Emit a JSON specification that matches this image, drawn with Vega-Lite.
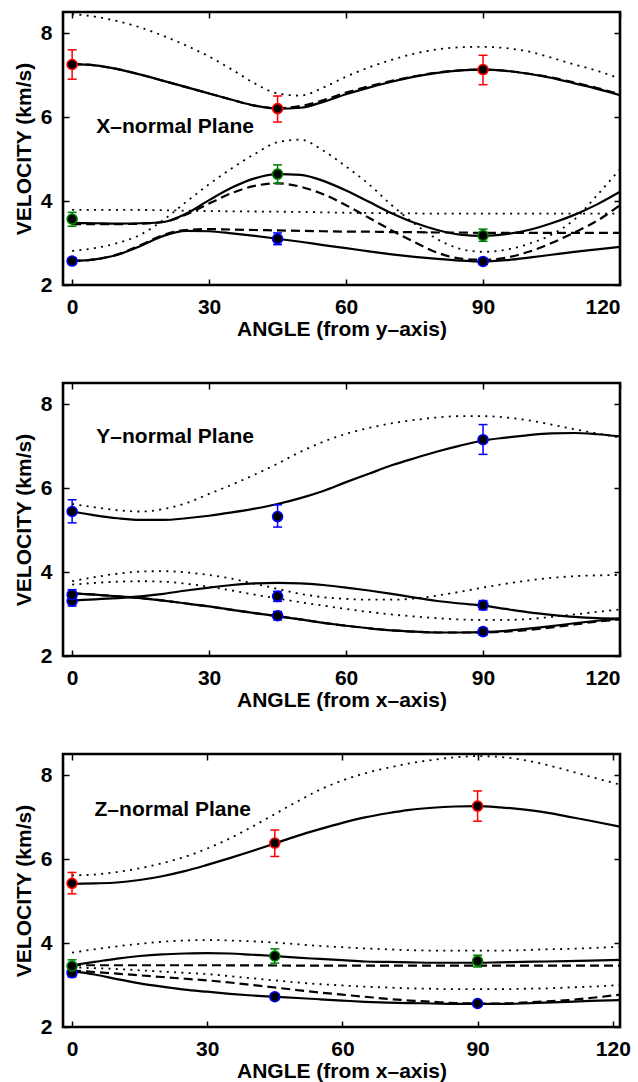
{
"$schema":"https://vega.github.io/schema/vega-lite/v6.json",
"background":"white",
"padding":{"left":12,"top":9,"right":0,"bottom":0},
"spacing":39,
"config":{
 "view":{"stroke":"black","strokeWidth":2.6},
 "font":"Liberation Sans",
 "axis":{"labelFont":"Liberation Sans","labelFontSize":21,"labelFontWeight":"bold","labelColor":"black","titleFont":"Liberation Sans","titleFontSize":21,"titleFontWeight":"bold","titleColor":"black","domain":false,"grid":false,"tickColor":"black","tickWidth":1.5,"tickSize":-6,"labelPadding":17,"titlePadding":1}
},
"datasets":{
"labels":[{"p":1,"t":"X–normal Plane","a":5.3,"v":5.76},{"p":2,"t":"Y–normal Plane","a":5.3,"v":7.22},{"p":3,"t":"Z–normal Plane","a":5.0,"v":7.17}],
"pts":[
{"p":1,"k":"b","a":0,"v":2.57,"lo":2.50,"hi":2.65},{"p":1,"k":"b","a":45,"v":3.10,"lo":2.96,"hi":3.24},{"p":1,"k":"b","a":90,"v":2.56,"lo":2.49,"hi":2.64},
{"p":1,"k":"g","a":0,"v":3.57,"lo":3.40,"hi":3.73},{"p":1,"k":"g","a":45,"v":4.64,"lo":4.42,"hi":4.86},{"p":1,"k":"g","a":90,"v":3.18,"lo":3.04,"hi":3.33},
{"p":1,"k":"r","a":0,"v":7.25,"lo":6.90,"hi":7.60},{"p":1,"k":"r","a":45,"v":6.20,"lo":5.88,"hi":6.50},{"p":1,"k":"r","a":90,"v":7.13,"lo":6.77,"hi":7.47},
{"p":2,"k":"b","a":0,"v":5.44,"lo":5.17,"hi":5.72},{"p":2,"k":"b","a":45,"v":5.32,"lo":5.07,"hi":5.60},{"p":2,"k":"b","a":90,"v":7.15,"lo":6.80,"hi":7.51},
{"p":2,"k":"b","a":0,"v":3.31,"lo":3.19,"hi":3.43},{"p":2,"k":"b","a":0,"v":3.46,"lo":3.34,"hi":3.58},{"p":2,"k":"b","a":45,"v":3.42,"lo":3.30,"hi":3.54},
{"p":2,"k":"b","a":45,"v":2.96,"lo":2.86,"hi":3.06},{"p":2,"k":"b","a":90,"v":3.21,"lo":3.10,"hi":3.32},{"p":2,"k":"b","a":90,"v":2.58,"lo":2.50,"hi":2.66},
{"p":3,"k":"b","a":0,"v":3.29,"lo":3.19,"hi":3.39},{"p":3,"k":"b","a":45,"v":2.72,"lo":2.65,"hi":2.79},{"p":3,"k":"b","a":90,"v":2.56,"lo":2.50,"hi":2.62},
{"p":3,"k":"g","a":0,"v":3.45,"lo":3.30,"hi":3.60},{"p":3,"k":"g","a":45,"v":3.69,"lo":3.52,"hi":3.86},{"p":3,"k":"g","a":90,"v":3.57,"lo":3.43,"hi":3.71},
{"p":3,"k":"r","a":0,"v":5.42,"lo":5.17,"hi":5.68},{"p":3,"k":"r","a":45,"v":6.38,"lo":6.06,"hi":6.69},{"p":3,"k":"r","a":90,"v":7.26,"lo":6.90,"hi":7.62}
],
"curves":[
{"p":1,"c":"P","s":"l","a":0,"v":7.26},{"p":1,"c":"P","s":"l","a":5,"v":7.23},{"p":1,"c":"P","s":"l","a":10,"v":7.14},{"p":1,"c":"P","s":"l","a":15,"v":7.01},{"p":1,"c":"P","s":"l","a":20,"v":6.86},{"p":1,"c":"P","s":"l","a":25,"v":6.71},{"p":1,"c":"P","s":"l","a":30,"v":6.56},{"p":1,"c":"P","s":"l","a":35,"v":6.41},{"p":1,"c":"P","s":"l","a":40,"v":6.27},{"p":1,"c":"P","s":"l","a":45,"v":6.20},{"p":1,"c":"P","s":"l","a":50,"v":6.22},{"p":1,"c":"P","s":"l","a":55,"v":6.36},{"p":1,"c":"P","s":"l","a":60,"v":6.54},{"p":1,"c":"P","s":"l","a":65,"v":6.70},{"p":1,"c":"P","s":"l","a":70,"v":6.84},{"p":1,"c":"P","s":"l","a":75,"v":6.96},{"p":1,"c":"P","s":"l","a":80,"v":7.05},{"p":1,"c":"P","s":"l","a":85,"v":7.11},{"p":1,"c":"P","s":"l","a":90,"v":7.13},{"p":1,"c":"P","s":"l","a":95,"v":7.10},{"p":1,"c":"P","s":"l","a":100,"v":7.03},{"p":1,"c":"P","s":"l","a":105,"v":6.93},{"p":1,"c":"P","s":"l","a":110,"v":6.80},{"p":1,"c":"P","s":"l","a":115,"v":6.67},{"p":1,"c":"P","s":"l","a":120,"v":6.52},
{"p":1,"c":"P","s":"d","a":0,"v":7.26},{"p":1,"c":"P","s":"d","a":5,"v":7.23},{"p":1,"c":"P","s":"d","a":10,"v":7.14},{"p":1,"c":"P","s":"d","a":15,"v":7.01},{"p":1,"c":"P","s":"d","a":20,"v":6.86},{"p":1,"c":"P","s":"d","a":25,"v":6.71},{"p":1,"c":"P","s":"d","a":30,"v":6.56},{"p":1,"c":"P","s":"d","a":35,"v":6.41},{"p":1,"c":"P","s":"d","a":40,"v":6.27},{"p":1,"c":"P","s":"d","a":45,"v":6.21},{"p":1,"c":"P","s":"d","a":50,"v":6.26},{"p":1,"c":"P","s":"d","a":55,"v":6.40},{"p":1,"c":"P","s":"d","a":60,"v":6.58},{"p":1,"c":"P","s":"d","a":65,"v":6.73},{"p":1,"c":"P","s":"d","a":70,"v":6.86},{"p":1,"c":"P","s":"d","a":75,"v":6.97},{"p":1,"c":"P","s":"d","a":80,"v":7.06},{"p":1,"c":"P","s":"d","a":85,"v":7.11},{"p":1,"c":"P","s":"d","a":90,"v":7.13},{"p":1,"c":"P","s":"d","a":95,"v":7.10},{"p":1,"c":"P","s":"d","a":100,"v":7.03},{"p":1,"c":"P","s":"d","a":105,"v":6.94},{"p":1,"c":"P","s":"d","a":110,"v":6.82},{"p":1,"c":"P","s":"d","a":115,"v":6.69},{"p":1,"c":"P","s":"d","a":120,"v":6.54},
{"p":1,"c":"P","s":"o","a":0,"v":8.45},{"p":1,"c":"P","s":"o","a":5,"v":8.39},{"p":1,"c":"P","s":"o","a":10,"v":8.28},{"p":1,"c":"P","s":"o","a":15,"v":8.13},{"p":1,"c":"P","s":"o","a":20,"v":7.93},{"p":1,"c":"P","s":"o","a":25,"v":7.70},{"p":1,"c":"P","s":"o","a":30,"v":7.44},{"p":1,"c":"P","s":"o","a":35,"v":7.13},{"p":1,"c":"P","s":"o","a":40,"v":6.80},{"p":1,"c":"P","s":"o","a":45,"v":6.56},{"p":1,"c":"P","s":"o","a":50,"v":6.51},{"p":1,"c":"P","s":"o","a":55,"v":6.70},{"p":1,"c":"P","s":"o","a":60,"v":6.96},{"p":1,"c":"P","s":"o","a":65,"v":7.18},{"p":1,"c":"P","s":"o","a":70,"v":7.36},{"p":1,"c":"P","s":"o","a":75,"v":7.51},{"p":1,"c":"P","s":"o","a":80,"v":7.61},{"p":1,"c":"P","s":"o","a":85,"v":7.66},{"p":1,"c":"P","s":"o","a":90,"v":7.67},{"p":1,"c":"P","s":"o","a":95,"v":7.64},{"p":1,"c":"P","s":"o","a":100,"v":7.56},{"p":1,"c":"P","s":"o","a":105,"v":7.41},{"p":1,"c":"P","s":"o","a":110,"v":7.25},{"p":1,"c":"P","s":"o","a":115,"v":7.10},{"p":1,"c":"P","s":"o","a":120,"v":6.91},
{"p":1,"c":"A","s":"l","a":0,"v":3.48},{"p":1,"c":"A","s":"l","a":5,"v":3.47},{"p":1,"c":"A","s":"l","a":10,"v":3.46},{"p":1,"c":"A","s":"l","a":15,"v":3.47},{"p":1,"c":"A","s":"l","a":20,"v":3.50},{"p":1,"c":"A","s":"l","a":25,"v":3.70},{"p":1,"c":"A","s":"l","a":30,"v":4.02},{"p":1,"c":"A","s":"l","a":35,"v":4.32},{"p":1,"c":"A","s":"l","a":40,"v":4.54},{"p":1,"c":"A","s":"l","a":45,"v":4.64},{"p":1,"c":"A","s":"l","a":50,"v":4.62},{"p":1,"c":"A","s":"l","a":55,"v":4.48},{"p":1,"c":"A","s":"l","a":60,"v":4.25},{"p":1,"c":"A","s":"l","a":65,"v":3.98},{"p":1,"c":"A","s":"l","a":70,"v":3.71},{"p":1,"c":"A","s":"l","a":75,"v":3.48},{"p":1,"c":"A","s":"l","a":80,"v":3.31},{"p":1,"c":"A","s":"l","a":85,"v":3.20},{"p":1,"c":"A","s":"l","a":90,"v":3.17},{"p":1,"c":"A","s":"l","a":95,"v":3.21},{"p":1,"c":"A","s":"l","a":100,"v":3.31},{"p":1,"c":"A","s":"l","a":105,"v":3.47},{"p":1,"c":"A","s":"l","a":110,"v":3.67},{"p":1,"c":"A","s":"l","a":115,"v":3.92},{"p":1,"c":"A","s":"l","a":120,"v":4.22},
{"p":1,"c":"A","s":"d","a":0,"v":3.45},{"p":1,"c":"A","s":"d","a":5,"v":3.45},{"p":1,"c":"A","s":"d","a":10,"v":3.45},{"p":1,"c":"A","s":"d","a":15,"v":3.46},{"p":1,"c":"A","s":"d","a":20,"v":3.50},{"p":1,"c":"A","s":"d","a":25,"v":3.68},{"p":1,"c":"A","s":"d","a":30,"v":3.94},{"p":1,"c":"A","s":"d","a":35,"v":4.19},{"p":1,"c":"A","s":"d","a":40,"v":4.36},{"p":1,"c":"A","s":"d","a":45,"v":4.42},{"p":1,"c":"A","s":"d","a":50,"v":4.34},{"p":1,"c":"A","s":"d","a":55,"v":4.16},{"p":1,"c":"A","s":"d","a":60,"v":3.90},{"p":1,"c":"A","s":"d","a":65,"v":3.60},{"p":1,"c":"A","s":"d","a":70,"v":3.30},{"p":1,"c":"A","s":"d","a":75,"v":3.02},{"p":1,"c":"A","s":"d","a":80,"v":2.77},{"p":1,"c":"A","s":"d","a":85,"v":2.63},{"p":1,"c":"A","s":"d","a":90,"v":2.60},{"p":1,"c":"A","s":"d","a":95,"v":2.65},{"p":1,"c":"A","s":"d","a":100,"v":2.79},{"p":1,"c":"A","s":"d","a":105,"v":3.00},{"p":1,"c":"A","s":"d","a":110,"v":3.25},{"p":1,"c":"A","s":"d","a":115,"v":3.53},{"p":1,"c":"A","s":"d","a":120,"v":3.90},
{"p":1,"c":"A","s":"o","a":0,"v":2.81},{"p":1,"c":"A","s":"o","a":5,"v":2.88},{"p":1,"c":"A","s":"o","a":10,"v":3.00},{"p":1,"c":"A","s":"o","a":15,"v":3.20},{"p":1,"c":"A","s":"o","a":20,"v":3.55},{"p":1,"c":"A","s":"o","a":25,"v":3.98},{"p":1,"c":"A","s":"o","a":30,"v":4.40},{"p":1,"c":"A","s":"o","a":35,"v":4.78},{"p":1,"c":"A","s":"o","a":40,"v":5.12},{"p":1,"c":"A","s":"o","a":45,"v":5.40},{"p":1,"c":"A","s":"o","a":50,"v":5.46},{"p":1,"c":"A","s":"o","a":55,"v":5.20},{"p":1,"c":"A","s":"o","a":60,"v":4.82},{"p":1,"c":"A","s":"o","a":65,"v":4.40},{"p":1,"c":"A","s":"o","a":70,"v":3.90},{"p":1,"c":"A","s":"o","a":75,"v":3.46},{"p":1,"c":"A","s":"o","a":80,"v":3.09},{"p":1,"c":"A","s":"o","a":85,"v":2.86},{"p":1,"c":"A","s":"o","a":90,"v":2.79},{"p":1,"c":"A","s":"o","a":95,"v":2.84},{"p":1,"c":"A","s":"o","a":100,"v":2.98},{"p":1,"c":"A","s":"o","a":105,"v":3.20},{"p":1,"c":"A","s":"o","a":110,"v":3.56},{"p":1,"c":"A","s":"o","a":115,"v":4.14},{"p":1,"c":"A","s":"o","a":120,"v":4.76},
{"p":1,"c":"B","s":"l","a":0,"v":2.57},{"p":1,"c":"B","s":"l","a":5,"v":2.61},{"p":1,"c":"B","s":"l","a":10,"v":2.72},{"p":1,"c":"B","s":"l","a":15,"v":2.93},{"p":1,"c":"B","s":"l","a":20,"v":3.17},{"p":1,"c":"B","s":"l","a":25,"v":3.29},{"p":1,"c":"B","s":"l","a":30,"v":3.28},{"p":1,"c":"B","s":"l","a":35,"v":3.23},{"p":1,"c":"B","s":"l","a":40,"v":3.17},{"p":1,"c":"B","s":"l","a":45,"v":3.10},{"p":1,"c":"B","s":"l","a":50,"v":3.03},{"p":1,"c":"B","s":"l","a":55,"v":2.95},{"p":1,"c":"B","s":"l","a":60,"v":2.88},{"p":1,"c":"B","s":"l","a":65,"v":2.80},{"p":1,"c":"B","s":"l","a":70,"v":2.73},{"p":1,"c":"B","s":"l","a":75,"v":2.67},{"p":1,"c":"B","s":"l","a":80,"v":2.62},{"p":1,"c":"B","s":"l","a":85,"v":2.58},{"p":1,"c":"B","s":"l","a":90,"v":2.56},{"p":1,"c":"B","s":"l","a":95,"v":2.59},{"p":1,"c":"B","s":"l","a":100,"v":2.65},{"p":1,"c":"B","s":"l","a":105,"v":2.72},{"p":1,"c":"B","s":"l","a":110,"v":2.79},{"p":1,"c":"B","s":"l","a":115,"v":2.85},{"p":1,"c":"B","s":"l","a":120,"v":2.91},
{"p":1,"c":"B","s":"d","a":0,"v":2.57},{"p":1,"c":"B","s":"d","a":5,"v":2.61},{"p":1,"c":"B","s":"d","a":10,"v":2.73},{"p":1,"c":"B","s":"d","a":15,"v":2.95},{"p":1,"c":"B","s":"d","a":20,"v":3.19},{"p":1,"c":"B","s":"d","a":25,"v":3.31},{"p":1,"c":"B","s":"d","a":30,"v":3.33},{"p":1,"c":"B","s":"d","a":35,"v":3.32},{"p":1,"c":"B","s":"d","a":40,"v":3.31},{"p":1,"c":"B","s":"d","a":45,"v":3.30},{"p":1,"c":"B","s":"d","a":50,"v":3.29},{"p":1,"c":"B","s":"d","a":55,"v":3.28},{"p":1,"c":"B","s":"d","a":60,"v":3.27},{"p":1,"c":"B","s":"d","a":65,"v":3.27},{"p":1,"c":"B","s":"d","a":70,"v":3.26},{"p":1,"c":"B","s":"d","a":75,"v":3.26},{"p":1,"c":"B","s":"d","a":80,"v":3.25},{"p":1,"c":"B","s":"d","a":85,"v":3.25},{"p":1,"c":"B","s":"d","a":90,"v":3.24},{"p":1,"c":"B","s":"d","a":95,"v":3.24},{"p":1,"c":"B","s":"d","a":100,"v":3.24},{"p":1,"c":"B","s":"d","a":105,"v":3.24},{"p":1,"c":"B","s":"d","a":110,"v":3.24},{"p":1,"c":"B","s":"d","a":115,"v":3.24},{"p":1,"c":"B","s":"d","a":120,"v":3.24},
{"p":1,"c":"B","s":"o","a":0,"v":3.79},{"p":1,"c":"B","s":"o","a":10,"v":3.79},{"p":1,"c":"B","s":"o","a":20,"v":3.78},{"p":1,"c":"B","s":"o","a":30,"v":3.76},{"p":1,"c":"B","s":"o","a":40,"v":3.75},{"p":1,"c":"B","s":"o","a":50,"v":3.74},{"p":1,"c":"B","s":"o","a":60,"v":3.72},{"p":1,"c":"B","s":"o","a":70,"v":3.71},{"p":1,"c":"B","s":"o","a":80,"v":3.70},{"p":1,"c":"B","s":"o","a":90,"v":3.70},{"p":1,"c":"B","s":"o","a":100,"v":3.70},{"p":1,"c":"B","s":"o","a":110,"v":3.70},{"p":1,"c":"B","s":"o","a":120,"v":3.70},
{"p":2,"c":"P","s":"l","a":0,"v":5.44},{"p":2,"c":"P","s":"l","a":5,"v":5.35},{"p":2,"c":"P","s":"l","a":10,"v":5.28},{"p":2,"c":"P","s":"l","a":15,"v":5.24},{"p":2,"c":"P","s":"l","a":20,"v":5.24},{"p":2,"c":"P","s":"l","a":25,"v":5.28},{"p":2,"c":"P","s":"l","a":30,"v":5.34},{"p":2,"c":"P","s":"l","a":35,"v":5.42},{"p":2,"c":"P","s":"l","a":40,"v":5.51},{"p":2,"c":"P","s":"l","a":45,"v":5.62},{"p":2,"c":"P","s":"l","a":50,"v":5.76},{"p":2,"c":"P","s":"l","a":55,"v":5.93},{"p":2,"c":"P","s":"l","a":60,"v":6.14},{"p":2,"c":"P","s":"l","a":65,"v":6.34},{"p":2,"c":"P","s":"l","a":70,"v":6.54},{"p":2,"c":"P","s":"l","a":75,"v":6.71},{"p":2,"c":"P","s":"l","a":80,"v":6.87},{"p":2,"c":"P","s":"l","a":85,"v":7.01},{"p":2,"c":"P","s":"l","a":90,"v":7.13},{"p":2,"c":"P","s":"l","a":95,"v":7.20},{"p":2,"c":"P","s":"l","a":100,"v":7.26},{"p":2,"c":"P","s":"l","a":105,"v":7.30},{"p":2,"c":"P","s":"l","a":110,"v":7.31},{"p":2,"c":"P","s":"l","a":115,"v":7.28},{"p":2,"c":"P","s":"l","a":120,"v":7.23},
{"p":2,"c":"P","s":"o","a":0,"v":5.62},{"p":2,"c":"P","s":"o","a":5,"v":5.54},{"p":2,"c":"P","s":"o","a":10,"v":5.47},{"p":2,"c":"P","s":"o","a":15,"v":5.44},{"p":2,"c":"P","s":"o","a":20,"v":5.50},{"p":2,"c":"P","s":"o","a":25,"v":5.64},{"p":2,"c":"P","s":"o","a":30,"v":5.86},{"p":2,"c":"P","s":"o","a":35,"v":6.08},{"p":2,"c":"P","s":"o","a":40,"v":6.32},{"p":2,"c":"P","s":"o","a":45,"v":6.58},{"p":2,"c":"P","s":"o","a":50,"v":6.86},{"p":2,"c":"P","s":"o","a":55,"v":7.10},{"p":2,"c":"P","s":"o","a":60,"v":7.29},{"p":2,"c":"P","s":"o","a":65,"v":7.43},{"p":2,"c":"P","s":"o","a":70,"v":7.54},{"p":2,"c":"P","s":"o","a":75,"v":7.62},{"p":2,"c":"P","s":"o","a":80,"v":7.68},{"p":2,"c":"P","s":"o","a":85,"v":7.71},{"p":2,"c":"P","s":"o","a":90,"v":7.71},{"p":2,"c":"P","s":"o","a":95,"v":7.68},{"p":2,"c":"P","s":"o","a":100,"v":7.61},{"p":2,"c":"P","s":"o","a":105,"v":7.51},{"p":2,"c":"P","s":"o","a":110,"v":7.40},{"p":2,"c":"P","s":"o","a":115,"v":7.30},{"p":2,"c":"P","s":"o","a":120,"v":7.20},
{"p":2,"c":"A","s":"l","a":0,"v":3.49},{"p":2,"c":"A","s":"l","a":5,"v":3.46},{"p":2,"c":"A","s":"l","a":10,"v":3.42},{"p":2,"c":"A","s":"l","a":15,"v":3.38},{"p":2,"c":"A","s":"l","a":20,"v":3.32},{"p":2,"c":"A","s":"l","a":25,"v":3.25},{"p":2,"c":"A","s":"l","a":30,"v":3.18},{"p":2,"c":"A","s":"l","a":35,"v":3.10},{"p":2,"c":"A","s":"l","a":40,"v":3.02},{"p":2,"c":"A","s":"l","a":45,"v":2.95},{"p":2,"c":"A","s":"l","a":50,"v":2.87},{"p":2,"c":"A","s":"l","a":55,"v":2.79},{"p":2,"c":"A","s":"l","a":60,"v":2.72},{"p":2,"c":"A","s":"l","a":65,"v":2.66},{"p":2,"c":"A","s":"l","a":70,"v":2.61},{"p":2,"c":"A","s":"l","a":75,"v":2.58},{"p":2,"c":"A","s":"l","a":80,"v":2.56},{"p":2,"c":"A","s":"l","a":85,"v":2.56},{"p":2,"c":"A","s":"l","a":90,"v":2.57},{"p":2,"c":"A","s":"l","a":95,"v":2.60},{"p":2,"c":"A","s":"l","a":100,"v":2.65},{"p":2,"c":"A","s":"l","a":105,"v":2.71},{"p":2,"c":"A","s":"l","a":110,"v":2.78},{"p":2,"c":"A","s":"l","a":115,"v":2.84},{"p":2,"c":"A","s":"l","a":120,"v":2.89},
{"p":2,"c":"A","s":"d","a":0,"v":3.49},{"p":2,"c":"A","s":"d","a":5,"v":3.46},{"p":2,"c":"A","s":"d","a":10,"v":3.42},{"p":2,"c":"A","s":"d","a":15,"v":3.38},{"p":2,"c":"A","s":"d","a":20,"v":3.32},{"p":2,"c":"A","s":"d","a":25,"v":3.25},{"p":2,"c":"A","s":"d","a":30,"v":3.18},{"p":2,"c":"A","s":"d","a":35,"v":3.10},{"p":2,"c":"A","s":"d","a":40,"v":3.02},{"p":2,"c":"A","s":"d","a":45,"v":2.95},{"p":2,"c":"A","s":"d","a":50,"v":2.87},{"p":2,"c":"A","s":"d","a":55,"v":2.79},{"p":2,"c":"A","s":"d","a":60,"v":2.72},{"p":2,"c":"A","s":"d","a":65,"v":2.66},{"p":2,"c":"A","s":"d","a":70,"v":2.61},{"p":2,"c":"A","s":"d","a":75,"v":2.58},{"p":2,"c":"A","s":"d","a":80,"v":2.56},{"p":2,"c":"A","s":"d","a":85,"v":2.56},{"p":2,"c":"A","s":"d","a":90,"v":2.56},{"p":2,"c":"A","s":"d","a":95,"v":2.58},{"p":2,"c":"A","s":"d","a":100,"v":2.62},{"p":2,"c":"A","s":"d","a":105,"v":2.68},{"p":2,"c":"A","s":"d","a":110,"v":2.75},{"p":2,"c":"A","s":"d","a":115,"v":2.82},{"p":2,"c":"A","s":"d","a":120,"v":2.87},
{"p":2,"c":"B","s":"l","a":0,"v":3.32},{"p":2,"c":"B","s":"l","a":5,"v":3.35},{"p":2,"c":"B","s":"l","a":10,"v":3.38},{"p":2,"c":"B","s":"l","a":15,"v":3.42},{"p":2,"c":"B","s":"l","a":20,"v":3.48},{"p":2,"c":"B","s":"l","a":25,"v":3.56},{"p":2,"c":"B","s":"l","a":30,"v":3.63},{"p":2,"c":"B","s":"l","a":35,"v":3.69},{"p":2,"c":"B","s":"l","a":40,"v":3.73},{"p":2,"c":"B","s":"l","a":45,"v":3.74},{"p":2,"c":"B","s":"l","a":50,"v":3.73},{"p":2,"c":"B","s":"l","a":55,"v":3.69},{"p":2,"c":"B","s":"l","a":60,"v":3.63},{"p":2,"c":"B","s":"l","a":65,"v":3.56},{"p":2,"c":"B","s":"l","a":70,"v":3.48},{"p":2,"c":"B","s":"l","a":75,"v":3.39},{"p":2,"c":"B","s":"l","a":80,"v":3.31},{"p":2,"c":"B","s":"l","a":85,"v":3.25},{"p":2,"c":"B","s":"l","a":90,"v":3.20},{"p":2,"c":"B","s":"l","a":95,"v":3.12},{"p":2,"c":"B","s":"l","a":100,"v":3.04},{"p":2,"c":"B","s":"l","a":105,"v":2.98},{"p":2,"c":"B","s":"l","a":110,"v":2.93},{"p":2,"c":"B","s":"l","a":115,"v":2.90},{"p":2,"c":"B","s":"l","a":120,"v":2.89},
{"p":2,"c":"A","s":"o","a":0,"v":3.78},{"p":2,"c":"A","s":"o","a":5,"v":3.88},{"p":2,"c":"A","s":"o","a":10,"v":3.96},{"p":2,"c":"A","s":"o","a":15,"v":4.01},{"p":2,"c":"A","s":"o","a":20,"v":4.02},{"p":2,"c":"A","s":"o","a":25,"v":3.99},{"p":2,"c":"A","s":"o","a":30,"v":3.93},{"p":2,"c":"A","s":"o","a":35,"v":3.84},{"p":2,"c":"A","s":"o","a":40,"v":3.72},{"p":2,"c":"A","s":"o","a":45,"v":3.60},{"p":2,"c":"A","s":"o","a":50,"v":3.48},{"p":2,"c":"A","s":"o","a":55,"v":3.40},{"p":2,"c":"A","s":"o","a":60,"v":3.36},{"p":2,"c":"A","s":"o","a":65,"v":3.34},{"p":2,"c":"A","s":"o","a":70,"v":3.34},{"p":2,"c":"A","s":"o","a":75,"v":3.37},{"p":2,"c":"A","s":"o","a":80,"v":3.44},{"p":2,"c":"A","s":"o","a":85,"v":3.53},{"p":2,"c":"A","s":"o","a":90,"v":3.63},{"p":2,"c":"A","s":"o","a":95,"v":3.72},{"p":2,"c":"A","s":"o","a":100,"v":3.80},{"p":2,"c":"A","s":"o","a":105,"v":3.86},{"p":2,"c":"A","s":"o","a":110,"v":3.90},{"p":2,"c":"A","s":"o","a":115,"v":3.92},{"p":2,"c":"A","s":"o","a":120,"v":3.93},
{"p":2,"c":"B","s":"o","a":0,"v":3.70},{"p":2,"c":"B","s":"o","a":5,"v":3.74},{"p":2,"c":"B","s":"o","a":10,"v":3.77},{"p":2,"c":"B","s":"o","a":15,"v":3.78},{"p":2,"c":"B","s":"o","a":20,"v":3.77},{"p":2,"c":"B","s":"o","a":25,"v":3.72},{"p":2,"c":"B","s":"o","a":30,"v":3.65},{"p":2,"c":"B","s":"o","a":35,"v":3.56},{"p":2,"c":"B","s":"o","a":40,"v":3.46},{"p":2,"c":"B","s":"o","a":45,"v":3.37},{"p":2,"c":"B","s":"o","a":50,"v":3.28},{"p":2,"c":"B","s":"o","a":55,"v":3.20},{"p":2,"c":"B","s":"o","a":60,"v":3.12},{"p":2,"c":"B","s":"o","a":65,"v":3.05},{"p":2,"c":"B","s":"o","a":70,"v":2.99},{"p":2,"c":"B","s":"o","a":75,"v":2.94},{"p":2,"c":"B","s":"o","a":80,"v":2.90},{"p":2,"c":"B","s":"o","a":85,"v":2.87},{"p":2,"c":"B","s":"o","a":90,"v":2.86},{"p":2,"c":"B","s":"o","a":95,"v":2.86},{"p":2,"c":"B","s":"o","a":100,"v":2.88},{"p":2,"c":"B","s":"o","a":105,"v":2.93},{"p":2,"c":"B","s":"o","a":110,"v":2.99},{"p":2,"c":"B","s":"o","a":115,"v":3.05},{"p":2,"c":"B","s":"o","a":120,"v":3.11},
{"p":3,"c":"P","s":"l","a":0,"v":5.41},{"p":3,"c":"P","s":"l","a":5,"v":5.42},{"p":3,"c":"P","s":"l","a":10,"v":5.44},{"p":3,"c":"P","s":"l","a":15,"v":5.50},{"p":3,"c":"P","s":"l","a":20,"v":5.59},{"p":3,"c":"P","s":"l","a":25,"v":5.71},{"p":3,"c":"P","s":"l","a":30,"v":5.86},{"p":3,"c":"P","s":"l","a":35,"v":6.02},{"p":3,"c":"P","s":"l","a":40,"v":6.19},{"p":3,"c":"P","s":"l","a":45,"v":6.37},{"p":3,"c":"P","s":"l","a":50,"v":6.55},{"p":3,"c":"P","s":"l","a":55,"v":6.71},{"p":3,"c":"P","s":"l","a":60,"v":6.86},{"p":3,"c":"P","s":"l","a":65,"v":6.99},{"p":3,"c":"P","s":"l","a":70,"v":7.09},{"p":3,"c":"P","s":"l","a":75,"v":7.17},{"p":3,"c":"P","s":"l","a":80,"v":7.22},{"p":3,"c":"P","s":"l","a":85,"v":7.25},{"p":3,"c":"P","s":"l","a":90,"v":7.26},{"p":3,"c":"P","s":"l","a":95,"v":7.23},{"p":3,"c":"P","s":"l","a":100,"v":7.18},{"p":3,"c":"P","s":"l","a":105,"v":7.11},{"p":3,"c":"P","s":"l","a":110,"v":7.01},{"p":3,"c":"P","s":"l","a":115,"v":6.91},{"p":3,"c":"P","s":"l","a":121.6,"v":6.77},
{"p":3,"c":"P","s":"o","a":0,"v":5.61},{"p":3,"c":"P","s":"o","a":5,"v":5.63},{"p":3,"c":"P","s":"o","a":10,"v":5.69},{"p":3,"c":"P","s":"o","a":15,"v":5.78},{"p":3,"c":"P","s":"o","a":20,"v":5.90},{"p":3,"c":"P","s":"o","a":25,"v":6.05},{"p":3,"c":"P","s":"o","a":30,"v":6.25},{"p":3,"c":"P","s":"o","a":35,"v":6.49},{"p":3,"c":"P","s":"o","a":40,"v":6.77},{"p":3,"c":"P","s":"o","a":45,"v":7.07},{"p":3,"c":"P","s":"o","a":50,"v":7.37},{"p":3,"c":"P","s":"o","a":55,"v":7.65},{"p":3,"c":"P","s":"o","a":60,"v":7.87},{"p":3,"c":"P","s":"o","a":65,"v":8.04},{"p":3,"c":"P","s":"o","a":70,"v":8.17},{"p":3,"c":"P","s":"o","a":75,"v":8.28},{"p":3,"c":"P","s":"o","a":80,"v":8.36},{"p":3,"c":"P","s":"o","a":85,"v":8.42},{"p":3,"c":"P","s":"o","a":90,"v":8.45},{"p":3,"c":"P","s":"o","a":95,"v":8.43},{"p":3,"c":"P","s":"o","a":100,"v":8.36},{"p":3,"c":"P","s":"o","a":105,"v":8.25},{"p":3,"c":"P","s":"o","a":110,"v":8.11},{"p":3,"c":"P","s":"o","a":115,"v":7.96},{"p":3,"c":"P","s":"o","a":121.6,"v":7.77},
{"p":3,"c":"A","s":"l","a":0,"v":3.47},{"p":3,"c":"A","s":"l","a":5,"v":3.55},{"p":3,"c":"A","s":"l","a":10,"v":3.63},{"p":3,"c":"A","s":"l","a":15,"v":3.69},{"p":3,"c":"A","s":"l","a":20,"v":3.73},{"p":3,"c":"A","s":"l","a":25,"v":3.75},{"p":3,"c":"A","s":"l","a":30,"v":3.76},{"p":3,"c":"A","s":"l","a":35,"v":3.75},{"p":3,"c":"A","s":"l","a":40,"v":3.72},{"p":3,"c":"A","s":"l","a":45,"v":3.69},{"p":3,"c":"A","s":"l","a":50,"v":3.65},{"p":3,"c":"A","s":"l","a":55,"v":3.62},{"p":3,"c":"A","s":"l","a":60,"v":3.59},{"p":3,"c":"A","s":"l","a":65,"v":3.56},{"p":3,"c":"A","s":"l","a":70,"v":3.55},{"p":3,"c":"A","s":"l","a":75,"v":3.54},{"p":3,"c":"A","s":"l","a":80,"v":3.53},{"p":3,"c":"A","s":"l","a":85,"v":3.53},{"p":3,"c":"A","s":"l","a":90,"v":3.53},{"p":3,"c":"A","s":"l","a":95,"v":3.54},{"p":3,"c":"A","s":"l","a":100,"v":3.55},{"p":3,"c":"A","s":"l","a":105,"v":3.56},{"p":3,"c":"A","s":"l","a":110,"v":3.57},{"p":3,"c":"A","s":"l","a":115,"v":3.58},{"p":3,"c":"A","s":"l","a":121.6,"v":3.60},
{"p":3,"c":"A","s":"d","a":0,"v":3.47},{"p":3,"c":"A","s":"d","a":30,"v":3.47},{"p":3,"c":"A","s":"d","a":60,"v":3.46},{"p":3,"c":"A","s":"d","a":90,"v":3.46},{"p":3,"c":"A","s":"d","a":121.6,"v":3.46},
{"p":3,"c":"A","s":"o","a":0,"v":3.77},{"p":3,"c":"A","s":"o","a":5,"v":3.85},{"p":3,"c":"A","s":"o","a":10,"v":3.92},{"p":3,"c":"A","s":"o","a":15,"v":3.98},{"p":3,"c":"A","s":"o","a":20,"v":4.03},{"p":3,"c":"A","s":"o","a":25,"v":4.06},{"p":3,"c":"A","s":"o","a":30,"v":4.07},{"p":3,"c":"A","s":"o","a":35,"v":4.06},{"p":3,"c":"A","s":"o","a":40,"v":4.04},{"p":3,"c":"A","s":"o","a":45,"v":4.01},{"p":3,"c":"A","s":"o","a":50,"v":3.97},{"p":3,"c":"A","s":"o","a":55,"v":3.93},{"p":3,"c":"A","s":"o","a":60,"v":3.90},{"p":3,"c":"A","s":"o","a":65,"v":3.87},{"p":3,"c":"A","s":"o","a":70,"v":3.85},{"p":3,"c":"A","s":"o","a":75,"v":3.83},{"p":3,"c":"A","s":"o","a":80,"v":3.82},{"p":3,"c":"A","s":"o","a":85,"v":3.82},{"p":3,"c":"A","s":"o","a":90,"v":3.82},{"p":3,"c":"A","s":"o","a":95,"v":3.82},{"p":3,"c":"A","s":"o","a":100,"v":3.83},{"p":3,"c":"A","s":"o","a":105,"v":3.85},{"p":3,"c":"A","s":"o","a":110,"v":3.86},{"p":3,"c":"A","s":"o","a":115,"v":3.88},{"p":3,"c":"A","s":"o","a":121.6,"v":3.91},
{"p":3,"c":"B","s":"l","a":0,"v":3.33},{"p":3,"c":"B","s":"l","a":5,"v":3.25},{"p":3,"c":"B","s":"l","a":10,"v":3.14},{"p":3,"c":"B","s":"l","a":15,"v":3.04},{"p":3,"c":"B","s":"l","a":20,"v":2.96},{"p":3,"c":"B","s":"l","a":25,"v":2.89},{"p":3,"c":"B","s":"l","a":30,"v":2.84},{"p":3,"c":"B","s":"l","a":35,"v":2.79},{"p":3,"c":"B","s":"l","a":40,"v":2.75},{"p":3,"c":"B","s":"l","a":45,"v":2.72},{"p":3,"c":"B","s":"l","a":50,"v":2.69},{"p":3,"c":"B","s":"l","a":55,"v":2.66},{"p":3,"c":"B","s":"l","a":60,"v":2.63},{"p":3,"c":"B","s":"l","a":65,"v":2.60},{"p":3,"c":"B","s":"l","a":70,"v":2.58},{"p":3,"c":"B","s":"l","a":75,"v":2.57},{"p":3,"c":"B","s":"l","a":80,"v":2.56},{"p":3,"c":"B","s":"l","a":85,"v":2.55},{"p":3,"c":"B","s":"l","a":90,"v":2.55},{"p":3,"c":"B","s":"l","a":95,"v":2.55},{"p":3,"c":"B","s":"l","a":100,"v":2.56},{"p":3,"c":"B","s":"l","a":105,"v":2.58},{"p":3,"c":"B","s":"l","a":110,"v":2.60},{"p":3,"c":"B","s":"l","a":115,"v":2.62},{"p":3,"c":"B","s":"l","a":121.6,"v":2.64},
{"p":3,"c":"B","s":"d","a":0,"v":3.34},{"p":3,"c":"B","s":"d","a":5,"v":3.31},{"p":3,"c":"B","s":"d","a":10,"v":3.27},{"p":3,"c":"B","s":"d","a":15,"v":3.23},{"p":3,"c":"B","s":"d","a":20,"v":3.19},{"p":3,"c":"B","s":"d","a":25,"v":3.15},{"p":3,"c":"B","s":"d","a":30,"v":3.11},{"p":3,"c":"B","s":"d","a":35,"v":3.06},{"p":3,"c":"B","s":"d","a":40,"v":3.00},{"p":3,"c":"B","s":"d","a":45,"v":2.94},{"p":3,"c":"B","s":"d","a":50,"v":2.88},{"p":3,"c":"B","s":"d","a":55,"v":2.82},{"p":3,"c":"B","s":"d","a":60,"v":2.77},{"p":3,"c":"B","s":"d","a":65,"v":2.72},{"p":3,"c":"B","s":"d","a":70,"v":2.67},{"p":3,"c":"B","s":"d","a":75,"v":2.63},{"p":3,"c":"B","s":"d","a":80,"v":2.60},{"p":3,"c":"B","s":"d","a":85,"v":2.57},{"p":3,"c":"B","s":"d","a":90,"v":2.56},{"p":3,"c":"B","s":"d","a":95,"v":2.56},{"p":3,"c":"B","s":"d","a":100,"v":2.58},{"p":3,"c":"B","s":"d","a":105,"v":2.61},{"p":3,"c":"B","s":"d","a":110,"v":2.64},{"p":3,"c":"B","s":"d","a":115,"v":2.69},{"p":3,"c":"B","s":"d","a":121.6,"v":2.77},
{"p":3,"c":"B","s":"o","a":0,"v":3.42},{"p":3,"c":"B","s":"o","a":5,"v":3.40},{"p":3,"c":"B","s":"o","a":10,"v":3.38},{"p":3,"c":"B","s":"o","a":15,"v":3.35},{"p":3,"c":"B","s":"o","a":20,"v":3.32},{"p":3,"c":"B","s":"o","a":25,"v":3.29},{"p":3,"c":"B","s":"o","a":30,"v":3.26},{"p":3,"c":"B","s":"o","a":35,"v":3.21},{"p":3,"c":"B","s":"o","a":40,"v":3.16},{"p":3,"c":"B","s":"o","a":45,"v":3.11},{"p":3,"c":"B","s":"o","a":50,"v":3.06},{"p":3,"c":"B","s":"o","a":55,"v":3.02},{"p":3,"c":"B","s":"o","a":60,"v":2.99},{"p":3,"c":"B","s":"o","a":65,"v":2.96},{"p":3,"c":"B","s":"o","a":70,"v":2.94},{"p":3,"c":"B","s":"o","a":75,"v":2.92},{"p":3,"c":"B","s":"o","a":80,"v":2.91},{"p":3,"c":"B","s":"o","a":85,"v":2.90},{"p":3,"c":"B","s":"o","a":90,"v":2.90},{"p":3,"c":"B","s":"o","a":95,"v":2.90},{"p":3,"c":"B","s":"o","a":100,"v":2.91},{"p":3,"c":"B","s":"o","a":105,"v":2.92},{"p":3,"c":"B","s":"o","a":110,"v":2.94},{"p":3,"c":"B","s":"o","a":115,"v":2.96},{"p":3,"c":"B","s":"o","a":121.6,"v":3.00}
]
},
"vconcat":[
{"width":557,"height":273,
 "layer":[
  {"data":{"name":"curves"},"transform":[{"filter":"datum.p==1 && datum.s=='o'"}],"mark":{"type":"line","color":"black","strokeWidth":1.8,"strokeDash":[2,5.3],"interpolate":"monotone","clip":true},
   "encoding":{"x":{"field":"a","type":"quantitative","scale":{"domain":[-2,120],"nice":false,"zero":false},"axis":{"orient":"bottom","values":[0,30,60,90,120],"title":"ANGLE (from y–axis)"}},
     "y":{"field":"v","type":"quantitative","scale":{"domain":[2,8.5],"nice":false,"zero":false},"axis":{"orient":"left","values":[2,4,6,8],"title":"VELOCITY (km/s)","titlePadding":6}},"detail":{"field":"c"}}},
  {"data":{"name":"curves"},"transform":[{"filter":"datum.p==1 && datum.s=='d'"}],"mark":{"type":"line","color":"black","strokeWidth":2.2,"strokeDash":[9,5],"interpolate":"monotone","clip":true},
   "encoding":{"x":{"field":"a","type":"quantitative","scale":{"domain":[-2,120],"nice":false,"zero":false},"axis":null},"y":{"field":"v","type":"quantitative","scale":{"domain":[2,8.5],"nice":false,"zero":false},"axis":null},"detail":{"field":"c"}}},
  {"data":{"name":"curves"},"transform":[{"filter":"datum.p==1 && datum.s=='l'"}],"mark":{"type":"line","color":"black","strokeWidth":2.2,"interpolate":"monotone","clip":true},
   "encoding":{"x":{"field":"a","type":"quantitative","scale":{"domain":[-2,120],"nice":false,"zero":false},"axis":null},"y":{"field":"v","type":"quantitative","scale":{"domain":[2,8.5],"nice":false,"zero":false},"axis":null},"detail":{"field":"c"}}},
  {"data":{"name":"pts"},"transform":[{"filter":"datum.p==1"}],"mark":{"type":"rule","strokeWidth":1.5},
   "encoding":{"x":{"field":"a","type":"quantitative","scale":{"domain":[-2,120],"nice":false,"zero":false},"axis":{"orient":"top","values":[0,30,60,90,120],"labels":false,"title":null}},
     "y":{"field":"lo","type":"quantitative","scale":{"domain":[2,8.5],"nice":false,"zero":false},"axis":{"orient":"right","values":[2,4,6,8],"labels":false,"title":null}},"y2":{"field":"hi"},
     "color":{"field":"k","type":"nominal","scale":{"domain":["r","g","b"],"range":["#ff0000","#007f00","#0000ff"]},"legend":null}}},
  {"data":{"name":"pts"},"transform":[{"filter":"datum.p==1"}],"mark":{"type":"tick","orient":"horizontal","size":9,"thickness":1.5,"opacity":1},
   "encoding":{"x":{"field":"a","type":"quantitative","scale":{"domain":[-2,120],"nice":false,"zero":false},"axis":null},"y":{"field":"lo","type":"quantitative","scale":{"domain":[2,8.5],"nice":false,"zero":false},"axis":null},
     "color":{"field":"k","type":"nominal","scale":{"domain":["r","g","b"],"range":["#ff0000","#007f00","#0000ff"]},"legend":null}}},
  {"data":{"name":"pts"},"transform":[{"filter":"datum.p==1"}],"mark":{"type":"tick","orient":"horizontal","size":9,"thickness":1.5,"opacity":1},
   "encoding":{"x":{"field":"a","type":"quantitative","scale":{"domain":[-2,120],"nice":false,"zero":false},"axis":null},"y":{"field":"hi","type":"quantitative","scale":{"domain":[2,8.5],"nice":false,"zero":false},"axis":null},
     "color":{"field":"k","type":"nominal","scale":{"domain":["r","g","b"],"range":["#ff0000","#007f00","#0000ff"]},"legend":null}}},
  {"data":{"name":"pts"},"transform":[{"filter":"datum.p==1"}],"mark":{"type":"point","shape":"circle","filled":false,"fill":"black","fillOpacity":1,"opacity":1,"size":100,"strokeWidth":1.6},
   "encoding":{"x":{"field":"a","type":"quantitative","scale":{"domain":[-2,120],"nice":false,"zero":false},"axis":null},"y":{"field":"v","type":"quantitative","scale":{"domain":[2,8.5],"nice":false,"zero":false},"axis":null},
     "color":{"field":"k","type":"nominal","scale":{"domain":["r","g","b"],"range":["#ff0000","#007f00","#0000ff"]},"legend":null}}},
  {"data":{"name":"labels"},"transform":[{"filter":"datum.p==1"}],"mark":{"type":"text","align":"left","baseline":"middle","fontSize":21,"fontWeight":"bold","font":"Liberation Sans","color":"black"},
   "encoding":{"x":{"field":"a","type":"quantitative","scale":{"domain":[-2,120],"nice":false,"zero":false},"axis":null},"y":{"field":"v","type":"quantitative","scale":{"domain":[2,8.5],"nice":false,"zero":false},"axis":null},"text":{"field":"t"}}}
 ],
 "resolve":{"axis":{"x":"independent","y":"independent"}}
},
{"width":557,"height":273,
 "layer":[
  {"data":{"name":"curves"},"transform":[{"filter":"datum.p==2 && datum.s=='o'"}],"mark":{"type":"line","color":"black","strokeWidth":1.8,"strokeDash":[2,5.3],"interpolate":"monotone","clip":true},
   "encoding":{"x":{"field":"a","type":"quantitative","scale":{"domain":[-2,120],"nice":false,"zero":false},"axis":{"orient":"bottom","values":[0,30,60,90,120],"title":"ANGLE (from x–axis)"}},
     "y":{"field":"v","type":"quantitative","scale":{"domain":[2,8.5],"nice":false,"zero":false},"axis":{"orient":"left","values":[2,4,6,8],"title":"VELOCITY (km/s)","titlePadding":6}},"detail":{"field":"c"}}},
  {"data":{"name":"curves"},"transform":[{"filter":"datum.p==2 && datum.s=='d'"}],"mark":{"type":"line","color":"black","strokeWidth":2.2,"strokeDash":[9,5],"interpolate":"monotone","clip":true},
   "encoding":{"x":{"field":"a","type":"quantitative","scale":{"domain":[-2,120],"nice":false,"zero":false},"axis":null},"y":{"field":"v","type":"quantitative","scale":{"domain":[2,8.5],"nice":false,"zero":false},"axis":null},"detail":{"field":"c"}}},
  {"data":{"name":"curves"},"transform":[{"filter":"datum.p==2 && datum.s=='l'"}],"mark":{"type":"line","color":"black","strokeWidth":2.2,"interpolate":"monotone","clip":true},
   "encoding":{"x":{"field":"a","type":"quantitative","scale":{"domain":[-2,120],"nice":false,"zero":false},"axis":null},"y":{"field":"v","type":"quantitative","scale":{"domain":[2,8.5],"nice":false,"zero":false},"axis":null},"detail":{"field":"c"}}},
  {"data":{"name":"pts"},"transform":[{"filter":"datum.p==2"}],"mark":{"type":"rule","strokeWidth":1.5},
   "encoding":{"x":{"field":"a","type":"quantitative","scale":{"domain":[-2,120],"nice":false,"zero":false},"axis":{"orient":"top","values":[0,30,60,90,120],"labels":false,"title":null}},
     "y":{"field":"lo","type":"quantitative","scale":{"domain":[2,8.5],"nice":false,"zero":false},"axis":{"orient":"right","values":[2,4,6,8],"labels":false,"title":null}},"y2":{"field":"hi"},
     "color":{"field":"k","type":"nominal","scale":{"domain":["r","g","b"],"range":["#ff0000","#007f00","#0000ff"]},"legend":null}}},
  {"data":{"name":"pts"},"transform":[{"filter":"datum.p==2"}],"mark":{"type":"tick","orient":"horizontal","size":9,"thickness":1.5,"opacity":1},
   "encoding":{"x":{"field":"a","type":"quantitative","scale":{"domain":[-2,120],"nice":false,"zero":false},"axis":null},"y":{"field":"lo","type":"quantitative","scale":{"domain":[2,8.5],"nice":false,"zero":false},"axis":null},
     "color":{"field":"k","type":"nominal","scale":{"domain":["r","g","b"],"range":["#ff0000","#007f00","#0000ff"]},"legend":null}}},
  {"data":{"name":"pts"},"transform":[{"filter":"datum.p==2"}],"mark":{"type":"tick","orient":"horizontal","size":9,"thickness":1.5,"opacity":1},
   "encoding":{"x":{"field":"a","type":"quantitative","scale":{"domain":[-2,120],"nice":false,"zero":false},"axis":null},"y":{"field":"hi","type":"quantitative","scale":{"domain":[2,8.5],"nice":false,"zero":false},"axis":null},
     "color":{"field":"k","type":"nominal","scale":{"domain":["r","g","b"],"range":["#ff0000","#007f00","#0000ff"]},"legend":null}}},
  {"data":{"name":"pts"},"transform":[{"filter":"datum.p==2"}],"mark":{"type":"point","shape":"circle","filled":false,"fill":"black","fillOpacity":1,"opacity":1,"size":100,"strokeWidth":1.6},
   "encoding":{"x":{"field":"a","type":"quantitative","scale":{"domain":[-2,120],"nice":false,"zero":false},"axis":null},"y":{"field":"v","type":"quantitative","scale":{"domain":[2,8.5],"nice":false,"zero":false},"axis":null},
     "color":{"field":"k","type":"nominal","scale":{"domain":["r","g","b"],"range":["#ff0000","#007f00","#0000ff"]},"legend":null}}},
  {"data":{"name":"labels"},"transform":[{"filter":"datum.p==2"}],"mark":{"type":"text","align":"left","baseline":"middle","fontSize":21,"fontWeight":"bold","font":"Liberation Sans","color":"black"},
   "encoding":{"x":{"field":"a","type":"quantitative","scale":{"domain":[-2,120],"nice":false,"zero":false},"axis":null},"y":{"field":"v","type":"quantitative","scale":{"domain":[2,8.5],"nice":false,"zero":false},"axis":null},"text":{"field":"t"}}}
 ],
 "resolve":{"axis":{"x":"independent","y":"independent"}}
},
{"width":557,"height":273,
 "layer":[
  {"data":{"name":"curves"},"transform":[{"filter":"datum.p==3 && datum.s=='o'"}],"mark":{"type":"line","color":"black","strokeWidth":1.8,"strokeDash":[2,5.3],"interpolate":"monotone","clip":true},
   "encoding":{"x":{"field":"a","type":"quantitative","scale":{"domain":[-2,121.6],"nice":false,"zero":false},"axis":{"orient":"bottom","values":[0,30,60,90,120],"title":"ANGLE (from x–axis)"}},
     "y":{"field":"v","type":"quantitative","scale":{"domain":[2,8.5],"nice":false,"zero":false},"axis":{"orient":"left","values":[2,4,6,8],"title":"VELOCITY (km/s)","titlePadding":6}},"detail":{"field":"c"}}},
  {"data":{"name":"curves"},"transform":[{"filter":"datum.p==3 && datum.s=='d'"}],"mark":{"type":"line","color":"black","strokeWidth":2.2,"strokeDash":[9,5],"interpolate":"monotone","clip":true},
   "encoding":{"x":{"field":"a","type":"quantitative","scale":{"domain":[-2,121.6],"nice":false,"zero":false},"axis":null},"y":{"field":"v","type":"quantitative","scale":{"domain":[2,8.5],"nice":false,"zero":false},"axis":null},"detail":{"field":"c"}}},
  {"data":{"name":"curves"},"transform":[{"filter":"datum.p==3 && datum.s=='l'"}],"mark":{"type":"line","color":"black","strokeWidth":2.2,"interpolate":"monotone","clip":true},
   "encoding":{"x":{"field":"a","type":"quantitative","scale":{"domain":[-2,121.6],"nice":false,"zero":false},"axis":null},"y":{"field":"v","type":"quantitative","scale":{"domain":[2,8.5],"nice":false,"zero":false},"axis":null},"detail":{"field":"c"}}},
  {"data":{"name":"pts"},"transform":[{"filter":"datum.p==3"}],"mark":{"type":"rule","strokeWidth":1.5},
   "encoding":{"x":{"field":"a","type":"quantitative","scale":{"domain":[-2,121.6],"nice":false,"zero":false},"axis":{"orient":"top","values":[0,30,60,90,120],"labels":false,"title":null}},
     "y":{"field":"lo","type":"quantitative","scale":{"domain":[2,8.5],"nice":false,"zero":false},"axis":{"orient":"right","values":[2,4,6,8],"labels":false,"title":null}},"y2":{"field":"hi"},
     "color":{"field":"k","type":"nominal","scale":{"domain":["r","g","b"],"range":["#ff0000","#007f00","#0000ff"]},"legend":null}}},
  {"data":{"name":"pts"},"transform":[{"filter":"datum.p==3"}],"mark":{"type":"tick","orient":"horizontal","size":9,"thickness":1.5,"opacity":1},
   "encoding":{"x":{"field":"a","type":"quantitative","scale":{"domain":[-2,121.6],"nice":false,"zero":false},"axis":null},"y":{"field":"lo","type":"quantitative","scale":{"domain":[2,8.5],"nice":false,"zero":false},"axis":null},
     "color":{"field":"k","type":"nominal","scale":{"domain":["r","g","b"],"range":["#ff0000","#007f00","#0000ff"]},"legend":null}}},
  {"data":{"name":"pts"},"transform":[{"filter":"datum.p==3"}],"mark":{"type":"tick","orient":"horizontal","size":9,"thickness":1.5,"opacity":1},
   "encoding":{"x":{"field":"a","type":"quantitative","scale":{"domain":[-2,121.6],"nice":false,"zero":false},"axis":null},"y":{"field":"hi","type":"quantitative","scale":{"domain":[2,8.5],"nice":false,"zero":false},"axis":null},
     "color":{"field":"k","type":"nominal","scale":{"domain":["r","g","b"],"range":["#ff0000","#007f00","#0000ff"]},"legend":null}}},
  {"data":{"name":"pts"},"transform":[{"filter":"datum.p==3"}],"mark":{"type":"point","shape":"circle","filled":false,"fill":"black","fillOpacity":1,"opacity":1,"size":100,"strokeWidth":1.6},
   "encoding":{"x":{"field":"a","type":"quantitative","scale":{"domain":[-2,121.6],"nice":false,"zero":false},"axis":null},"y":{"field":"v","type":"quantitative","scale":{"domain":[2,8.5],"nice":false,"zero":false},"axis":null},
     "color":{"field":"k","type":"nominal","scale":{"domain":["r","g","b"],"range":["#ff0000","#007f00","#0000ff"]},"legend":null}}},
  {"data":{"name":"labels"},"transform":[{"filter":"datum.p==3"}],"mark":{"type":"text","align":"left","baseline":"middle","fontSize":21,"fontWeight":"bold","font":"Liberation Sans","color":"black"},
   "encoding":{"x":{"field":"a","type":"quantitative","scale":{"domain":[-2,121.6],"nice":false,"zero":false},"axis":null},"y":{"field":"v","type":"quantitative","scale":{"domain":[2,8.5],"nice":false,"zero":false},"axis":null},"text":{"field":"t"}}}
 ],
 "resolve":{"axis":{"x":"independent","y":"independent"}}
}
]
}
